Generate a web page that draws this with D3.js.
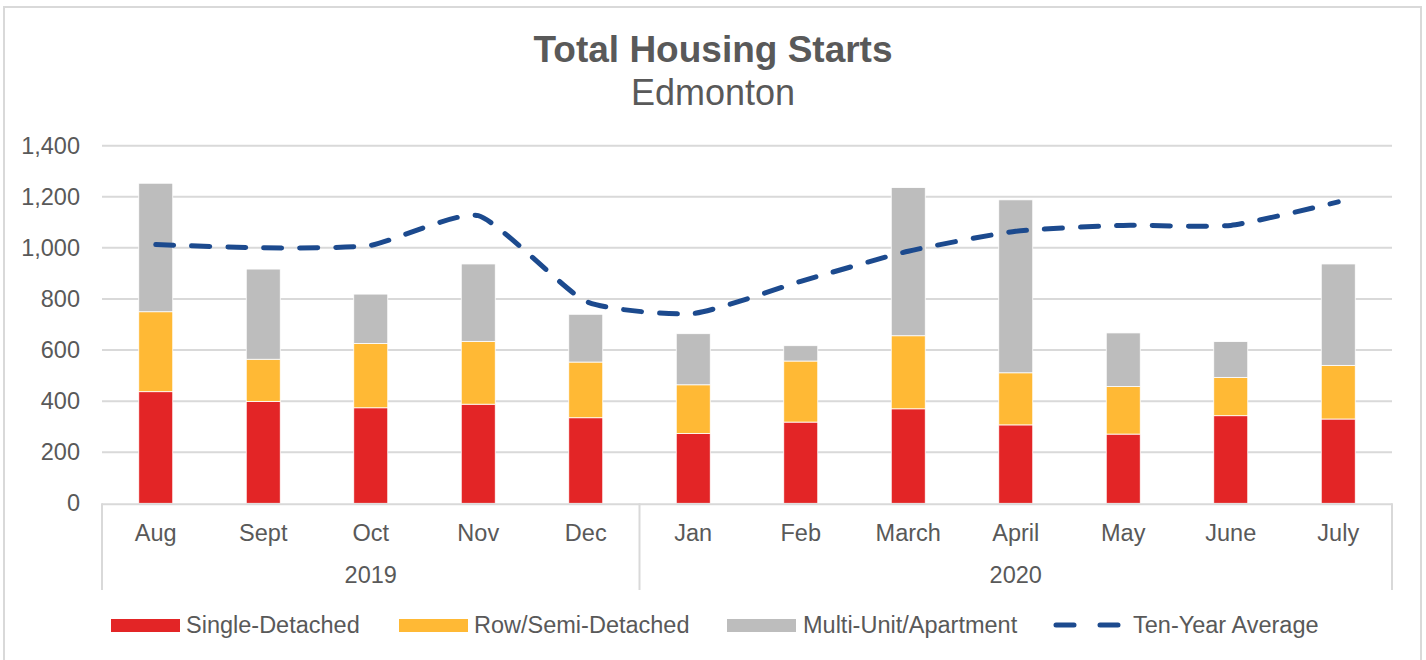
<!DOCTYPE html>
<html>
<head>
<meta charset="utf-8">
<script src="https://cdn.jsdelivr.net/npm/d3@7"></script>
<style>
  html, body { margin: 0; padding: 0; background: #fff; }
  svg { display: block; font-family: "Liberation Sans", Arial, sans-serif; }
</style>
</head>
<body>
<svg id="chart" width="1426" height="660"></svg>
<script>
const months = ["Aug","Sept","Oct","Nov","Dec","Jan","Feb","March","April","May","June","July"];
const years = [{label:"2019", from:0, to:4}, {label:"2020", from:5, to:11}];
const singleDetached = [437,399,374,388,335,273,318,370,307,271,343,330];
const rowSemi = [313,165,252,246,218,191,239,286,204,186,150,210];
const multiUnit = [503,353,193,303,187,200,60,580,677,210,140,397];
const tenYearAvg = [1013,1000,1010,1126,791,743,869,987,1065,1088,1088,1180];
const yTicks = [0,200,400,600,800,1000,1200,1400];
const seriesNames = ["Single-Detached","Row/Semi-Detached","Multi-Unit/Apartment"];
const seriesColors = ["#e32526","#ffb935","#bdbdbd"];
const lineName = "Ten-Year Average";
const lineColor = "#1c4a8e";
const textColor = "#595959";
const gridColor = "#d9d9d9";

const svg = d3.select("#chart");

// outer frame
svg.append("rect").attr("x",4).attr("y",7).attr("width",1417).attr("height",660)
  .attr("fill","#fff").attr("stroke",gridColor).attr("stroke-width",2);

// titles
svg.append("text").attr("x",713).attr("y",62).attr("text-anchor","middle")
  .attr("font-size",37).attr("font-weight","bold").attr("fill",textColor).text("Total Housing Starts");
svg.append("text").attr("x",713).attr("y",105).attr("text-anchor","middle")
  .attr("font-size",36).attr("fill",textColor).text("Edmonton");

const x0 = 102, x1 = 1392, yTop = 145.7, yBot = 503.3;
const x = d3.scaleBand().domain(months).range([x0,x1]).paddingInner(0).paddingOuter(0);
const y = d3.scaleLinear().domain([0,1400]).range([yBot,yTop]);
const barW = 34;
const fs = 23.5;

// gridlines
svg.append("g").selectAll("line").data(yTicks.filter(t=>t>0)).join("line")
  .attr("x1",x0).attr("x2",x1).attr("y1",d=>y(d)).attr("y2",d=>y(d))
  .attr("stroke",gridColor).attr("stroke-width",2);

// y axis labels
const yAxis = d3.axisLeft(y).tickValues(yTicks).tickFormat(d3.format(",")).tickSize(0).tickPadding(22);
const gy = svg.append("g").attr("transform",`translate(${x0},0)`).call(yAxis);
gy.select(".domain").remove();
gy.selectAll("text").attr("font-size",fs).attr("fill",textColor)
  .attr("font-family","'Liberation Sans', Arial, sans-serif");

// stacked bars
const rows = months.map((m,i)=>({month:m, s0:singleDetached[i], s1:rowSemi[i], s2:multiUnit[i]}));
const stack = d3.stack().keys(["s0","s1","s2"])(rows);
svg.append("g").selectAll("g").data(stack).join("g")
  .attr("fill",(d,i)=>seriesColors[i])
  .selectAll("rect").data(d=>d).join("rect")
  .attr("x",d=>x(d.data.month)+x.bandwidth()/2-barW/2)
  .attr("width",barW)
  .attr("y",d=>y(d[1]))
  .attr("height",d=>y(d[0])-y(d[1]))
  .attr("stroke","#ffffff").attr("stroke-width",0.8);

// x axis
const gx = svg.append("g");
gx.append("line").attr("x1",x0).attr("x2",x1).attr("y1",yBot+1).attr("y2",yBot+1)
  .attr("stroke",gridColor).attr("stroke-width",2);
const seps = [x0, x(months[years[1].from]), x1];
gx.selectAll("line.sep").data(seps).join("line").attr("class","sep")
  .attr("x1",d=>d).attr("x2",d=>d).attr("y1",yBot).attr("y2",590)
  .attr("stroke",gridColor).attr("stroke-width",2);
gx.selectAll("text.month").data(months).join("text").attr("class","month")
  .attr("x",d=>x(d)+x.bandwidth()/2).attr("y",541).attr("text-anchor","middle")
  .attr("font-size",fs).attr("fill",textColor).text(d=>d);
gx.selectAll("text.year").data(years).join("text").attr("class","year")
  .attr("x",d=>(x(months[d.from]) + x(months[d.to]) + x.bandwidth())/2).attr("y",583)
  .attr("text-anchor","middle").attr("font-size",fs).attr("fill",textColor).text(d=>d.label);

// ten-year average line
const line = d3.line().x((d,i)=>x(months[i])+x.bandwidth()/2).y(d=>y(d))
  .curve(d3.curveCardinal.tension(0.45));
svg.append("path").datum(tenYearAvg).attr("d",line)
  .attr("fill","none").attr("stroke",lineColor).attr("stroke-width",5)
  .attr("stroke-linecap","round").attr("stroke-dasharray","18,18");

// legend
const lg = svg.append("g");
const legendItems = [
  {name:seriesNames[0], color:seriesColors[0], sx:111, tx:186},
  {name:seriesNames[1], color:seriesColors[1], sx:399, tx:474},
  {name:seriesNames[2], color:seriesColors[2], sx:727, tx:803}
];
legendItems.forEach(it=>{
  lg.append("rect").attr("x",it.sx).attr("y",619).attr("width",69).attr("height",13).attr("fill",it.color);
  lg.append("text").attr("x",it.tx).attr("y",633).attr("font-size",fs).attr("fill",textColor).text(it.name);
});
lg.append("line").attr("x1",1056).attr("x2",1118).attr("y1",625).attr("y2",625)
  .attr("stroke",lineColor).attr("stroke-width",5).attr("stroke-linecap","round")
  .attr("stroke-dasharray","18,26");
lg.append("text").attr("x",1133).attr("y",633).attr("font-size",fs).attr("fill",textColor).text(lineName);
</script>
</body>
</html>
